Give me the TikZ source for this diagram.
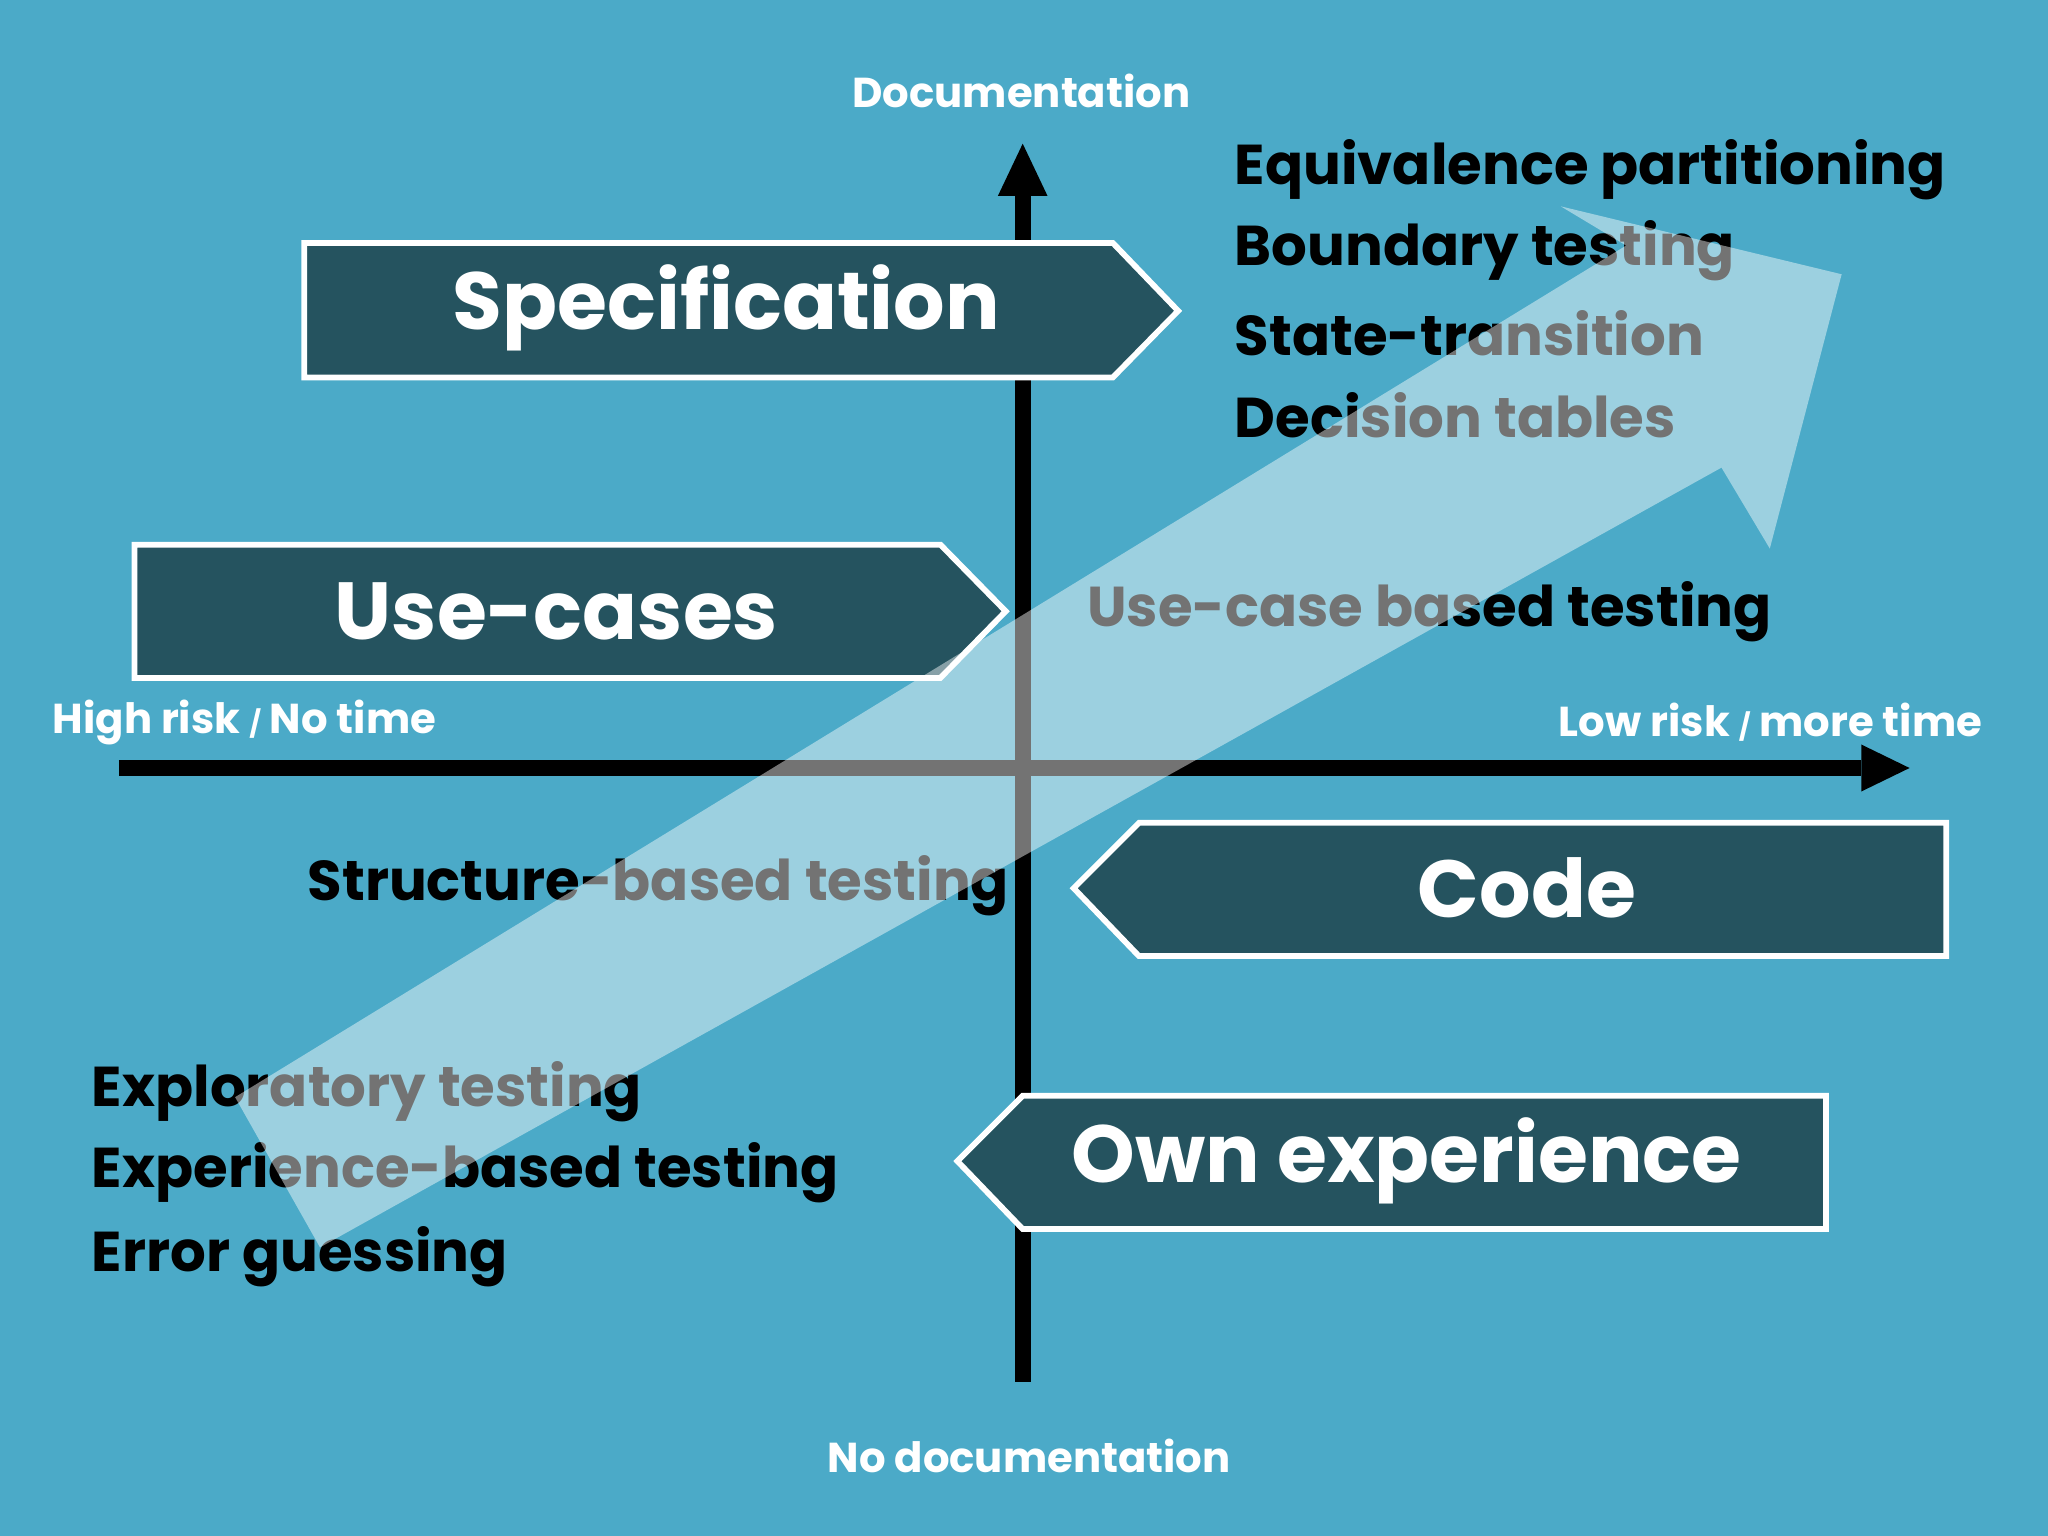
\documentclass[tikz,border=0pt]{standalone}
\usepackage{fontspec}
\setmainfont{Poppins}
\usetikzlibrary{positioning}
\definecolor{bgblue}{RGB}{75,170,200}
\definecolor{boxteal}{RGB}{37,83,95}
\tikzset{
  axis/.style={line width=6pt,black},
  box/.style={fill=boxteal,draw=white,line width=2.2pt},
  boxlabel/.style={text=white,font=\bfseries\fontsize{31}{36}\selectfont,inner sep=0pt},
  item/.style={text=black,font=\bfseries\fontsize{21.5}{26}\selectfont,inner sep=0pt,anchor=west},
  axlabel/.style={text=white,font=\bfseries\fontsize{16}{19}\selectfont,inner sep=0pt}
}
\begin{document}
\begin{tikzpicture}[x=0.5pt,y=-0.5pt]
\fill[bgblue] (0,0) rectangle (1568,1176);
\useasboundingbox (0,0) rectangle (1568,1176);

% axes
\coordinate (vbot) at (783,1058);
\coordinate (vtop) at (783,110);
\coordinate (hleft) at (91,588);
\coordinate (hright) at (1462,588);
\draw[axis] (vbot) -- (783,150);
\fill (vtop) -- (764,150) -- (802,150) -- cycle;
\draw[axis] (hleft) -- (1425,588);
\fill (hright) -- (1425,570) -- (1425,606) -- cycle;

\node[axlabel] (doc) at (782,70) {Documentation};
\node[axlabel] (nodoc) at (788,1115) {No documentation};
\node[axlabel,anchor=west] (high) at (40,553) {High risk {\fontsize{10}{12}\selectfont/} No time};
\node[axlabel,anchor=east] (low) at (1518,553) {Low risk {\fontsize{10}{12}\selectfont/} more time};

% boxes
\draw[box] (233,186) -- (852,186) -- (902,238) -- (852,289) -- (233,289) -- cycle;
\node[boxlabel] (spec) at (556,236) {Specification};
\draw[box] (103,417) -- (720,417) -- (770,468) -- (720,519) -- (103,519) -- cycle;
\node[boxlabel] (usec) at (426,468) {Use-cases};
\draw[box] (822,680) -- (872,630) -- (1490,630) -- (1490,732) -- (872,732) -- cycle;
\node[boxlabel] (code) at (1169,680) {Code};
\draw[box] (733,889) -- (783,839) -- (1398,839) -- (1398,941) -- (783,941) -- cycle;
\node[boxlabel] (own) at (1077,889) {Own experience};

% technique lists
\node[item] (equiv) at (945,130) {Equivalence partitioning};
\node[item] (bound) at (945,192) {Boundary testing};
\node[item] (state) at (945,255) {State-transition};
\node[item] (dect) at (945,318) {Decision tables};
\node[item] (ucbt) at (832,468) {Use-case based testing};
\node[item,anchor=east] (sbt) at (773,678) {Structure-based testing};
\node[item] (expl) at (70,836) {Exploratory testing};
\node[item] (expb) at (70,898) {Experience-based testing};
\node[item] (errg) at (70,962) {Error guessing};

% big arrow
\fill[white,fill opacity=0.45] (180,840) -- (1245,188) -- (1195,158) -- (1410,210)
  -- (1355,420) -- (1318,358) -- (245,955) -- cycle;
\end{tikzpicture}
\end{document}
